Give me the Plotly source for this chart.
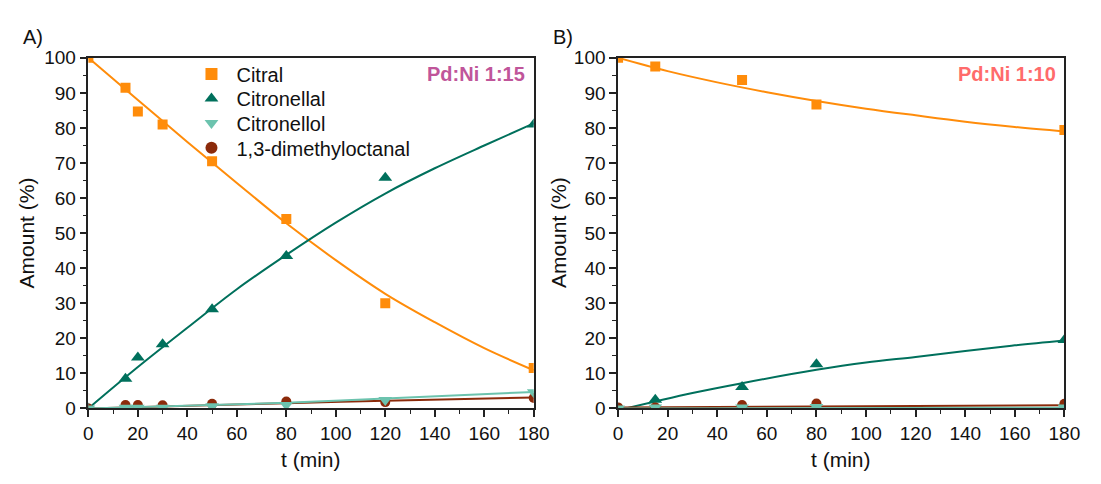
import plotly.graph_objects as go

W, H = 1101, 484

# ---------------- data ----------------
t_A = [0, 15, 20, 30, 50, 80, 120, 180]
citral_A = [100, 91.5, 84.7, 81.0, 70.5, 54.0, 30.0, 11.5]
citronellal_A = [0, 8.5, 14.5, 18.3, 28.3, 43.5, 65.8, 81.0]
citronellol_A = [0, 0.2, 0.2, 0.2, 0.6, 1.0, 2.4, 4.6]
dmo_A = [0, 1.0, 1.0, 0.9, 1.3, 2.0, 1.8, 3.0]

t_B = [0, 15, 50, 80, 180]
citral_B = [100, 97.5, 93.7, 86.7, 79.4]
citronellal_B = [0, 2.5, 6.1, 12.6, 19.5]
citronellol_B = [0, 0.3, 0.3, 0.4, 0.3]
dmo_B = [0.3, 0.3, 1.0, 1.4, 1.3]

# fitted curves
tf = [0, 20, 40, 60, 80, 100, 120, 140, 160, 180]
fit_citral_A = [100, 88.0, 76.0, 64.3, 52.8, 42.3, 32.7, 24.6, 17.2, 10.9]
fit_citronellal_A = [0, 11.8, 23.0, 34.0, 43.8, 53.0, 61.3, 68.5, 75.0, 81.3]
tf_lin = [0, 80, 120, 180]
fit_citronellol_A = [0, 1.6, 2.8, 4.7]
fit_dmo_A = [0, 1.5, 2.2, 3.1]

fit_citral_B = [100, 96.2, 93.0, 90.2, 87.7, 85.5, 83.6, 81.8, 80.3, 79.0]
tf_B2 = [3, 15, 30, 50, 80, 100, 120, 140, 160, 180]
fit_citronellal_B = [0, 2.0, 4.4, 7.2, 11.0, 13.1, 14.7, 16.4, 18.0, 19.4]
tf_B_lin = [0, 180]
fit_citronellol_B = [0.0, 0.2]
fit_dmo_B = [0.3, 0.9]

x_ticks = list(range(0, 181, 20))
y_ticks = list(range(0, 101, 10))

names = ["Citral", "Citronellal", "Citronellol", "1,3-dimethyloctanal"]
colors = ["#FF8C0A", "#00705C", "#6CC3AE", "#8B2A0A"]
symbols = ["square", "triangle-up", "triangle-down", "circle"]
msizes = [10, 12, 12, 10]

# ---------------- layout helpers ----------------
def px(x):
    return x / W

def py(y):
    return 1 - y / H

FONT = "Liberation Sans, Arial"
legend_ids = ["legend", "legend2", "legend3", "legend4"]
legend_rows = [67, 92.5, 118, 144]

fig = go.Figure()

panels = [
    dict(xa="x", ya="y", t=t_A, data=[citral_A, citronellal_A, citronellol_A, dmo_A],
         fits=[(tf, fit_citral_A), (tf, fit_citronellal_A), (tf_lin, fit_citronellol_A), (tf_lin, fit_dmo_A)],
         legend=True),
    dict(xa="x2", ya="y2", t=t_B, data=[citral_B, citronellal_B, citronellol_B, dmo_B],
         fits=[(tf, fit_citral_B), (tf_B2, fit_citronellal_B), (tf_B_lin, fit_citronellol_B), (tf_B_lin, fit_dmo_B)],
         legend=False),
]

draw_order = [0, 1, 3, 2]
for p in panels:
    for i in draw_order:
        fx, fy = p["fits"][i]
        fig.add_trace(go.Scatter(x=fx, y=fy, mode="lines", line=dict(color=colors[i], width=2, shape="spline"),
                                 xaxis=p["xa"], yaxis=p["ya"], showlegend=False, hoverinfo="skip"))
    for i in draw_order:
        fig.add_trace(go.Scatter(x=p["t"], y=p["data"][i], mode="markers", name=names[i],
                                 marker=dict(symbol=symbols[i], size=msizes[i], color=colors[i], line=dict(width=0)),
                                 xaxis=p["xa"], yaxis=p["ya"], showlegend=p["legend"], legend=legend_ids[i]))

axis_common = dict(showline=True, linecolor="#222222", linewidth=1.5, mirror=True, ticks="outside",
                   ticklen=7, tickwidth=1.5, tickcolor="#222222", showgrid=False, zeroline=False,
                   tickfont=dict(family=FONT, size=19, color="#111111"))

xdomA = [px(85), px(539)]
xdomB = [px(625), px(1080)]
ydom = [py(416.5), py(50)]

layout = dict(
    width=W, height=H, margin=dict(l=0, r=0, t=0, b=0),
    paper_bgcolor="white", plot_bgcolor="white",
    font=dict(family=FONT, size=19, color="#111111"),
    xaxis=dict(domain=xdomA, range=[0, 180], tickvals=x_ticks, anchor="y", **axis_common),
    yaxis=dict(domain=ydom, range=[0, 100], tickvals=y_ticks, anchor="x", **axis_common),
    xaxis2=dict(domain=xdomB, range=[0, 180], tickvals=x_ticks, anchor="y2", **axis_common),
    yaxis2=dict(domain=ydom, range=[0, 100], tickvals=y_ticks, anchor="x2", **axis_common),
    showlegend=True,
)
for lid, ry in zip(legend_ids, legend_rows):
    layout[lid] = dict(x=px(185), y=py(ry), xanchor="left", yanchor="middle", bgcolor="rgba(0,0,0,0)",
                       font=dict(size=20, family=FONT, color="#111111"), itemwidth=40,
                       itemsizing="constant")
fig.update_layout(**layout)
for ax, dt in [("xaxis", 10), ("yaxis", 5), ("xaxis2", 10), ("yaxis2", 5)]:
    fig.layout[ax].minor = dict(dtick=dt, ticks="outside", ticklen=4, tickwidth=1.2, tickcolor="#222222")

ann = [
    dict(text="A)", x=px(16), y=py(28), size=20, xa="left", color="#111111"),
    dict(text="B)", x=px(557), y=py(28), size=20, xa="left", color="#111111"),
    dict(text="<b>Pd:Ni 1:15</b>", x=px(532), y=py(67), size=20, xa="right", color="#C0559A"),
    dict(text="<b>Pd:Ni 1:10</b>", x=px(1073), y=py(67), size=20, xa="right", color="#FF6B6B"),
    dict(text="t (min)", x=px(312), y=py(470), size=21, xa="center", color="#111111"),
    dict(text="t (min)", x=px(852), y=py(470), size=21, xa="center", color="#111111"),
]
for a in ann:
    fig.add_annotation(text=a["text"], x=a["x"], y=a["y"], xref="paper", yref="paper", showarrow=False,
                       xanchor=a["xa"], yanchor="middle",
                       font=dict(size=a["size"], color=a["color"], family=FONT))
for xx in [22, 565]:
    fig.add_annotation(text="Amount (%)", x=px(xx), y=py(233), xref="paper", yref="paper", showarrow=False,
                       textangle=-90, xanchor="center", yanchor="middle",
                       font=dict(size=21, color="#111111", family=FONT))

fig.write_html("out.html")
